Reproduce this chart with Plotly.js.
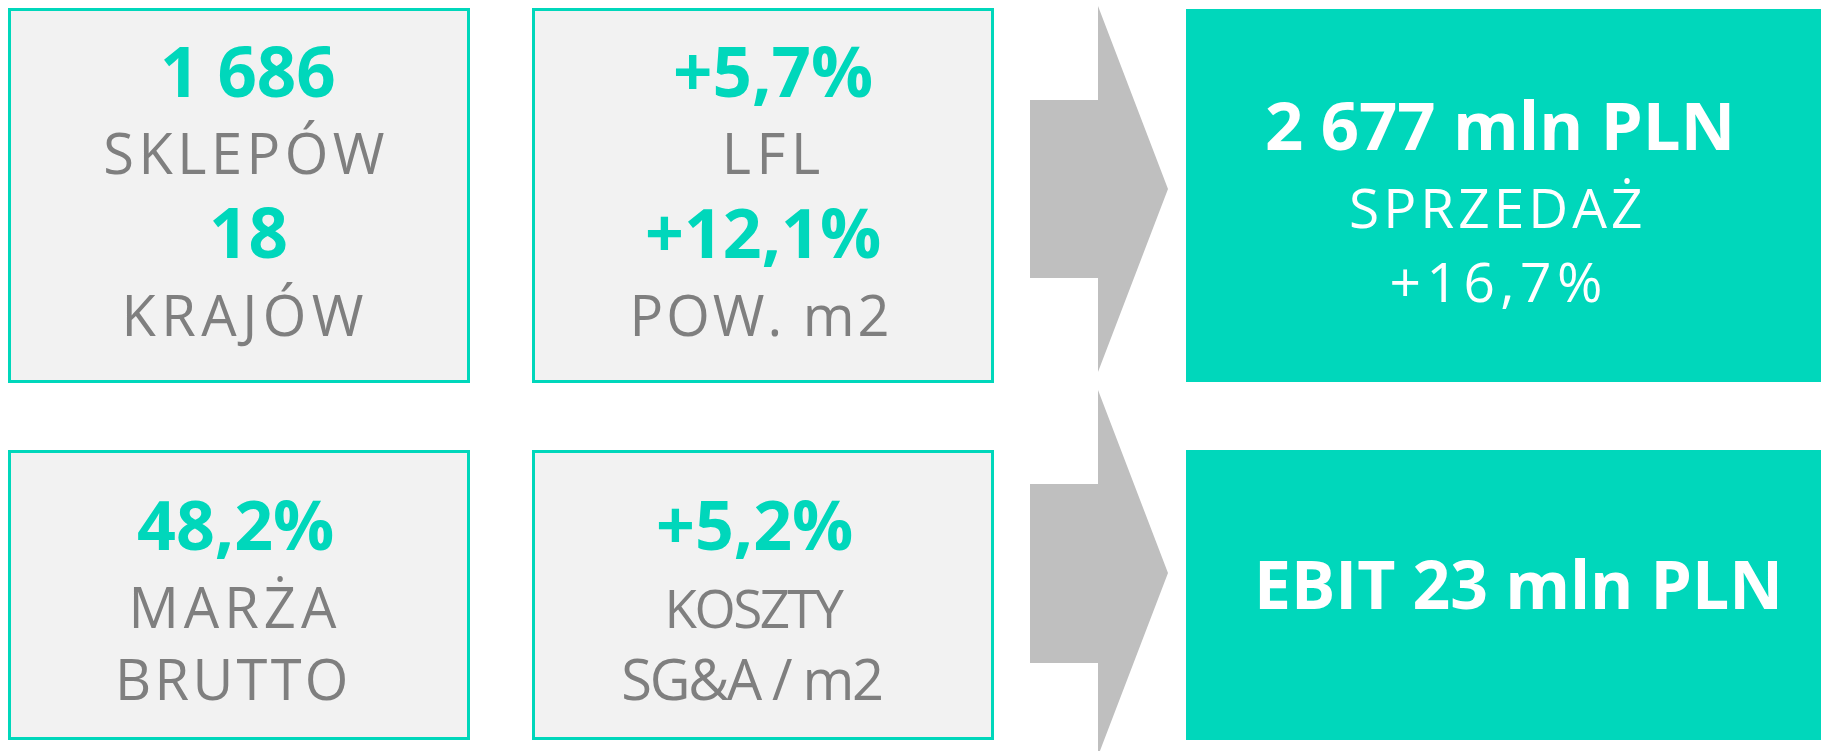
<!DOCTYPE html>
<html>
<head>
<meta charset="utf-8">
<script src="https://cdn.plot.ly/plotly-3.0.1.min.js"></script>
<style>
  html, body { margin: 0; padding: 0; background: #ffffff; }
  #chart { width: 1821px; height: 751px; }
</style>
</head>
<body>
<div id="chart"></div>
<script>
// ---- content (text values of the infographic) ----
const panelValues = ['1 686', '18', '+5,7%', '+12,1%', '48,2%', '+5,2%'];
const panelLabels = ['SKLEPÓW', 'KRAJÓW', 'LFL', 'POW. m2', 'MARŻA', 'BRUTTO', 'KOSZTY', 'SG&A / m2'];
const resultTitles = ['2 677 mln PLN', 'EBIT 23 mln PLN'];
const resultLabels = ['SPRZEDAŻ'];
const resultChanges = ['+16,7%'];

// ---- styling / layout constants ----
const TEAL = '#00D7BB';
const PANEL_BG = '#F2F2F2';
const ARROW = '#BFBFBF';
const GREY_TXT = '#7F7F7F';
const FONT = 'Open Sans, Noto Sans, sans-serif';

// panel rectangles (layout geometry)
const panels = [
  {x0: 9.5, x1: 468.5, y0: 9.5, y1: 381.5},
  {x0: 533.5, x1: 992.5, y0: 9.5, y1: 381.5},
  {x0: 9.5, x1: 468.5, y0: 451.5, y1: 738.5},
  {x0: 533.5, x1: 992.5, y0: 451.5, y1: 738.5}
];
const results = [
  {x0: 1186, x1: 1821, y0: 9, y1: 382},
  {x0: 1186, x1: 1821, y0: 450, y1: 740}
];
const arrows = [
  {xs: 1030, xb: 1098, xt: 1168, top: 6, rt: 100, tip: 189, rb: 278, bot: 372},
  {xs: 1030, xb: 1098, xt: 1168, top: 390, rt: 484, tip: 573, rb: 663, bot: 756}
];

const shapes = [];
panels.forEach(p => shapes.push({
  type: 'rect', xref: 'x', yref: 'y', x0: p.x0, x1: p.x1, y0: p.y0, y1: p.y1,
  fillcolor: PANEL_BG, line: {color: TEAL, width: 3}, layer: 'below'
}));
results.forEach(r => shapes.push({
  type: 'rect', xref: 'x', yref: 'y', x0: r.x0, x1: r.x1, y0: r.y0, y1: r.y1,
  fillcolor: TEAL, line: {width: 0}, layer: 'below'
}));
arrows.forEach(a => shapes.push({
  type: 'path', xref: 'x', yref: 'y',
  path: `M${a.xs},${a.rt} L${a.xb},${a.rt} L${a.xb},${a.top} L${a.xt},${a.tip} L${a.xb},${a.bot} L${a.xb},${a.rb} L${a.xs},${a.rb} Z`,
  fillcolor: ARROW, line: {width: 0}, layer: 'below'
}));

// text placements: [text, x, y, size, color, bold, letterSpacing]
const texts = [
  [panelValues[0], 248, 70, 69, TEAL, true, 0],
  [panelLabels[0], 246, 152, 56, GREY_TXT, false, 4.5],
  [panelValues[1], 248, 231, 69, TEAL, true, 0],
  [panelLabels[1], 245, 314, 56, GREY_TXT, false, 5.5],
  [panelValues[2], 773, 70, 69, TEAL, true, 0],
  [panelLabels[2], 773, 152, 56, GREY_TXT, false, 5.5],
  [panelValues[3], 763, 231, 68, TEAL, true, 0],
  [panelLabels[3], 761, 314, 56, GREY_TXT, false, 3],
  [resultTitles[0], 1500, 124, 67, '#FFFFFF', true, 0],
  [resultLabels[0], 1497, 206, 55, '#FFFFFF', false, 4],
  [resultChanges[0], 1499, 280, 55, '#FFFFFF', false, 5.5],
  [panelValues[4], 235, 523, 68, TEAL, true, 0],
  [panelLabels[4], 235, 606, 56, GREY_TXT, false, 5],
  [panelLabels[5], 233, 678, 56, GREY_TXT, false, 3.3],
  [panelValues[5], 754, 523, 68, TEAL, true, 0],
  [panelLabels[6], 753, 607, 53, GREY_TXT, false, -2.5],
  [panelLabels[7], 751, 678, 56, GREY_TXT, false, -2.3],
  [resultTitles[1], 1518, 583, 66, '#FFFFFF', true, 0]
];

const annotations = texts.map(t => ({
  text: t[0], x: t[1], y: t[2], xref: 'x', yref: 'y',
  xanchor: 'center', yanchor: 'middle', align: 'center', showarrow: false,
  font: {family: FONT, size: t[3], color: t[4], weight: t[5] ? 700 : 400}
}));

const layout = {
  width: 1821, height: 751,
  margin: {l: 0, r: 0, t: 0, b: 0, pad: 0},
  paper_bgcolor: '#FFFFFF', plot_bgcolor: '#FFFFFF',
  showlegend: false,
  xaxis: {range: [0, 1821], visible: false, fixedrange: true},
  yaxis: {range: [751, 0], visible: false, fixedrange: true},
  shapes: shapes,
  annotations: annotations
};

Plotly.newPlot('chart', [], layout, {displayModeBar: false, staticPlot: true}).then(gd => {
  gd.querySelectorAll('g.annotation').forEach(g => {
    const idx = parseInt(g.getAttribute('data-index'), 10);
    const ls = texts[idx] ? texts[idx][6] : 0;
    if (ls) {
      g.querySelectorAll('text').forEach(tx => tx.style.letterSpacing = ls + 'px');
    }
  });
});
</script>
</body>
</html>
